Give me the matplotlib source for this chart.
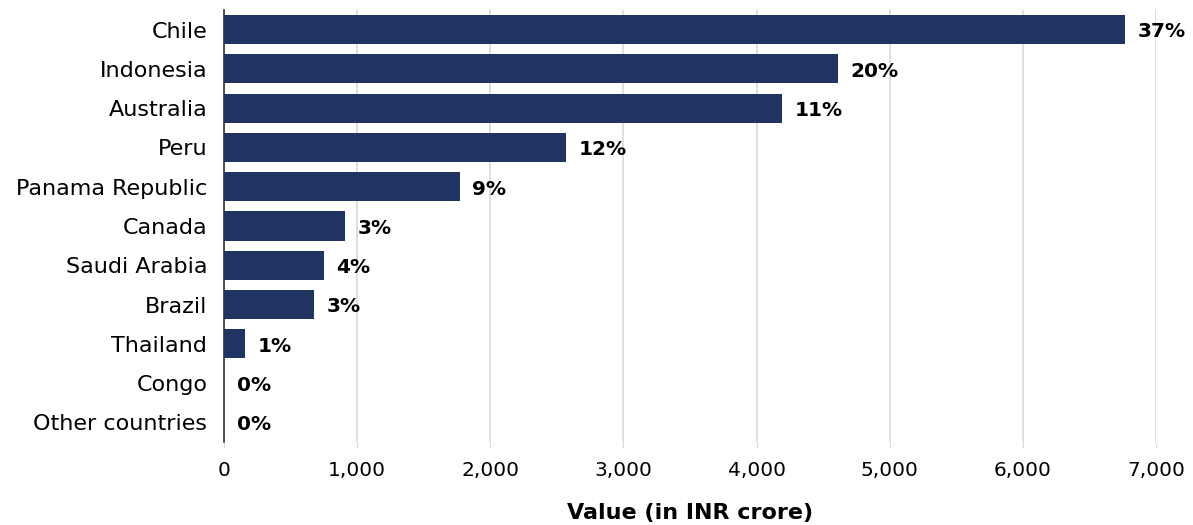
import matplotlib
matplotlib.use("Agg")
import matplotlib.pyplot as plt
from matplotlib.ticker import FuncFormatter

countries = ["Chile", "Indonesia", "Australia", "Peru", "Panama Republic", "Canada",
             "Saudi Arabia", "Brazil", "Thailand", "Congo", "Other countries"]
values = [6770, 4610, 4190, 2570, 1770, 910, 750, 675, 155, 0, 0]
shares = ["37%", "20%", "11%", "12%", "9%", "3%", "4%", "3%", "1%", "0%", "0%"]

plt.rcParams['font.family'] = ['DejaVu Sans']

fig = plt.figure(figsize=(11.93, 5.25), dpi=100)
ax = fig.add_axes([224 / 1193, 1 - 442 / 525, (1156 - 224) / 1193, (442 - 10) / 525])

ypos = list(range(len(countries)))
ax.barh(ypos, values, height=0.74, color="#1f3461", zorder=3)

# share labels to the right of each bar
for y, v, s in zip(ypos, values, shares):
    ax.text(v + 95, y + 0.06, s, ha='left', va='center', fontsize=14.5,
            fontweight='bold', color='black', clip_on=False)

ax.set_ylim(len(countries) - 0.5, -0.5)
ax.set_xlim(0, 7000)
ax.set_yticks(ypos)
ax.set_yticklabels(countries, fontsize=16)
ax.set_xticks(range(0, 7001, 1000))
ax.xaxis.set_major_formatter(FuncFormatter(lambda x, p: f"{int(x):,}"))
ax.tick_params(axis='x', labelsize=14.5, length=4, color="#d9d9d9", pad=10)
ax.tick_params(axis='y', length=0, pad=12)

ax.grid(axis='x', color="#d9d9d9", linewidth=1.2, zorder=0)
for side in ["top", "right", "bottom"]:
    ax.spines[side].set_visible(False)
ax.spines["left"].set_color("#333333")
ax.spines["left"].set_linewidth(1.2)

ax.set_xlabel("Value (in INR crore)", fontsize=16, fontweight='bold', labelpad=16)

fig.savefig("out.png", dpi=100)
